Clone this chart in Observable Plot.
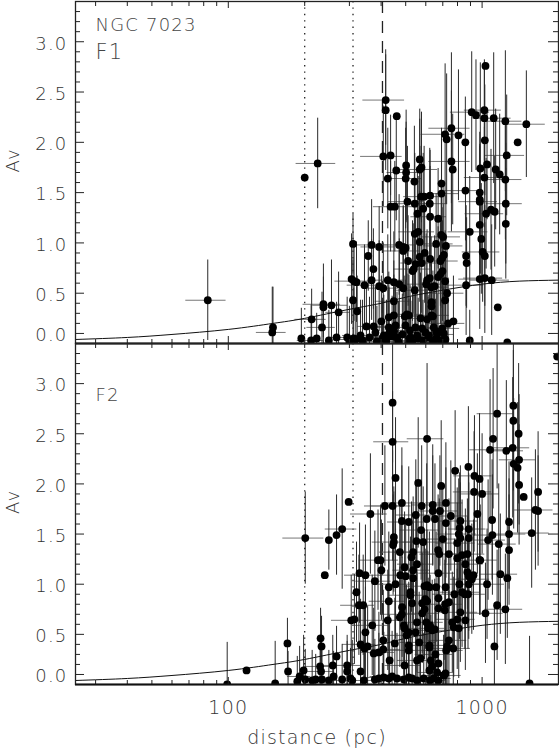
<!DOCTYPE html>
<html><head><meta charset="utf-8">
<script src="https://cdn.jsdelivr.net/npm/d3@7"></script>
<script src="https://cdn.jsdelivr.net/npm/@observablehq/plot@0.6"></script>
<style>
body{margin:0;background:#fff;}
#chart svg{display:block;}
#chart text{letter-spacing:1.2px;}
</style></head><body><div id="chart"></div>
<script>
// ---- Panel F1 (distance pc, Av mag, distance error pc, Av error mag) ----
const f1Dist = [
 83,149,150,194,200,212,213,223,225,234,
 237,237,249,255,267,272,294,300,306,310,
 310,312,313,318,320,322,332,338,344,350,
 356,360,367,367,373,374,380,385,393,393,
 401,405,408,408,410,417,417,420,425,425,
 429,429,430,436,436,442,449,449,449,450,
 453,456,459,461,462,468,471,472,485,489,
 489,489,496,499,500,500,502,502,504,506,
 508,511,515,515,520,522,530,532,538,541,
 543,543,543,546,547,554,556,560,560,568,
 568,568,568,572,575,577,578,580,585,586,
 591,594,598,602,607,607,612,617,622,622,
 624,624,624,630,632,632,632,640,640,645,
 650,655,659,660,665,671,671,685,685,690,
 690,692,692,696,696,698,702,706,707,715,
 715,715,717,720,725,728,735,757,757,766,
 771,807,859,860,865,865,869,894,894,910,
 946,979,979,979,979,979,984,993,1005,1021,
 1021,1021,1025,1025,1025,1031,1037,1046,1084,1091,
 1111,1121,1131,1153,1173,1235,1235,1240,1240,1250,1257,
 1381,1494];
const f1Av = [
 0.43,0.11,0.16,0.05,1.65,0.03,0.24,0.05,1.79,0.16,
 0.39,0.36,0.03,0.38,0.06,0.31,0.06,0.02,0.64,0.99,
 0.43,0.05,0.62,0.04,0.61,0.32,0.08,0.03,0.58,0.17,
 0.87,0.06,0.98,0.63,0.74,0.17,0.11,0.02,0.96,0.57,
 0.22,0.05,1.86,0.55,0.08,2.42,2.32,0.03,1.64,0.63,
 0.26,0.16,0.10,1.87,1.36,0.07,0.61,0.42,0.28,0.12,
 1.36,0.18,1.72,2.26,0.06,0.02,0.98,0.59,0.09,0.96,
 0.92,0.55,0.27,0.18,1.64,0.95,1.77,1.70,0.28,0.29,
 1.41,0.82,0.28,0.04,0.13,0.06,0.02,0.72,0.74,1.61,
 1.39,1.09,0.53,0.16,0.79,0.08,1.29,1.11,0.05,1.83,
 1.73,1.01,0.86,0.25,1.46,1.75,0.80,0.15,0.03,1.34,
 1.46,0.90,0.11,0.59,0.63,0.24,0.06,0.08,1.39,0.65,
 1.47,1.26,0.84,0.56,0.41,0.37,0.28,0.27,0.02,0.16,
 0.57,0.04,0.99,0.12,0.09,1.24,0.66,0.82,0.69,1.08,
 0.03,1.59,1.49,0.85,0.15,0.72,1.06,0.10,0.88,2.08,
 0.62,0.43,0.04,0.97,2.03,0.50,0.20,2.14,1.81,1.73,
 0.22,2.07,2.00,1.52,0.87,0.58,0.80,1.11,0.03,2.30,
 2.27,1.50,1.43,1.41,1.18,0.64,1.74,1.04,0.91,2.32,
 2.24,1.65,2.02,0.87,0.65,2.76,1.29,1.78,1.33,0.63,
 2.24,1.31,1.73,0.36,1.68,2.21,1.63,1.39,1.19,1.87,0.01,
 2.00,2.18];
const f1DistErr = [
 15,20,0,0,0,25,30,0,40,30,
 40,0,0,40,0,30,40,0,0,0,
 0,0,50,50,0,0,50,0,50,0,
 0,60,60,0,0,50,0,60,60,0,
 0,70,76,60,60,78,0,0,0,70,
 0,70,0,0,0,70,0,70,0,0,
 80,0,0,0,0,80,70,0,0,0,
 80,0,80,0,80,0,0,80,0,80,
 80,0,0,0,90,80,0,0,90,0,
 90,0,90,0,0,90,0,90,0,0,
 100,0,0,90,0,0,100,0,100,0,
 100,0,100,100,0,0,0,0,100,0,
 0,100,0,110,0,0,110,0,0,110,
 0,0,110,0,110,0,0,120,0,0,
 0,0,120,0,120,0,120,0,0,140,
 0,0,0,120,0,120,120,140,140,0,
 0,0,0,150,0,150,0,160,0,160,
 0,0,0,170,0,170,0,0,170,170,
 0,170,0,0,180,0,180,0,0,190,
 190,0,0,0,0,200,200,200,0,220,0,
 0,280];
const f1AvErr = [
 0.40,0.45,0.40,0.30,0,0.35,0.30,0.25,0.45,0.35,
 0.40,0.30,0.30,0.45,0.35,0.40,0.40,0.35,0.45,0.30,
 0.40,0.50,0.40,0.40,0.40,0.35,0.35,0.40,0.40,0.40,
 0.35,0.40,0.45,0.40,0.40,0.40,0.45,0.35,0.40,0.45,
 0.45,0.40,0.50,0.45,0.40,0.45,0.60,0.40,0.50,0.45,
 0.45,0.40,0.45,0.40,0.45,0.40,0.50,0.40,0.40,0.45,
 0.45,0.40,0.50,0,0.45,0.40,0.50,0.45,0.40,0.40,
 0.45,0.40,0.40,0.45,0.50,0.45,0.55,0.50,0.50,0.40,
 0.55,0.45,0.40,0.40,0.45,0.40,0.40,0.50,0.45,0.55,
 0.50,0.55,0.45,0.45,0.50,0.45,0.45,0.55,0.40,0.50,
 0.50,0.50,0.45,0.45,0.50,0.55,0.50,0.45,0.40,0.55,
 0.50,0.50,0.45,0.50,0.50,0.45,0.40,0.40,0.55,0.45,
 0.45,0.50,0.45,0.50,0.45,0.40,0.45,0.45,0.40,0.45,
 0.50,0.40,0.50,0.45,0.40,0.50,0.50,0.45,0.50,0.55,
 0.40,0.55,0.55,0.50,0.45,0.50,0.55,0.45,0.50,0.70,
 0.50,0.45,0.40,0.50,0.65,0.50,0.45,0.75,0.70,0.55,
 0.45,0.65,0.45,0.50,0.50,0.50,0.45,0.55,0.30,0.60,
 0.55,0.60,0.55,0.55,0.50,0.50,1.05,0.55,0.50,0.50,
 0.55,0.50,0.55,0.50,0.55,0,0.55,0.55,0.60,0.55,
 0.65,0.55,0.60,0,0.60,0.70,0.60,0.60,0.55,0.60,0,
 0,0.53];

// ---- Panel F2 ----
const f2Dist = [
 99,118,153,171,172,187,191,198,201,201,
 214,221,230,231,232,233,234,240,249,249,
 258,260,267,267,281,281,294,294,298,303,
 305,308,314,320,327,329,332,332,340,342,
 344,347,347,354,363,369,374,378,378,389,
 392,392,398,401,408,408,410,414,425,429,
 429,429,432,442,444,444,444,446,449,449,
 453,456,456,462,474,474,476,483,483,483,
 484,492,492,495,495,495,500,504,514,514,
 514,514,514,522,522,527,530,530,535,535,
 535,547,548,551,554,554,554,554,560,565,
 572,575,578,581,581,586,589,593,593,597,
 603,605,607,607,607,613,620,620,620,620,
 622,624,628,636,636,639,639,645,651,652,
 655,659,665,671,673,673,673,673,673,678,
 682,690,700,706,707,713,715,717,718,720,
 720,722,728,740,740,740,753,763,770,773,
 778,783,798,798,798,809,809,814,816,821,
 821,821,834,834,855,859,859,875,875,880,
 883,886,886,886,886,911,925,930,933,958,
 977,977,983,1000,1031,1046,1056,1075,1095,1098,
 1105,1118,1146,1146,1163,1180,1235,1246,1257,1277,
 1277,1277,1320,1328,1328,1332,1380,1393,1399,1399,
 1458,1538,1568,1622,1662,1662,1977];
const f2Av = [
 0.00,0.14,0.01,0.41,0.13,0.03,0.08,0.14,0.05,1.46,
 0.04,0.05,0.18,0.46,0.13,0.38,0.05,1.09,1.44,0.04,
 0.19,0.08,1.49,0.28,1.55,0.05,0.19,0.13,1.82,0.06,
 0.64,0.04,0.65,0.92,0.79,1.11,0.40,0.13,0.79,0.04,
 0.36,1.09,0.52,0.38,1.70,0.59,0.31,1.03,0.05,1.24,
 0.32,0.06,1.24,1.14,0.44,0.35,0.07,1.78,0.64,0.97,
 0.83,0.06,0.24,0.08,2.81,2.42,1.78,1.39,1.47,1.42,
 0.41,2.06,1.00,0.06,1.32,0.67,1.09,1.81,1.63,0.70,
 0.77,0.59,0.05,1.17,0.56,0.19,1.08,0.49,1.62,0.52,
 0.39,0.34,0.07,0.92,0.89,1.27,0.81,0.06,1.32,1.14,
 1.06,0.52,1.69,1.43,1.20,0.62,0.24,0.04,2.01,0.42,
 0.26,1.54,1.78,0.81,0.71,1.42,0.06,0.98,0.75,0.85,
 0.62,1.65,2.45,0.99,0.83,0.56,0.97,0.39,0.37,0.14,
 0.04,0.59,0.24,0.54,0.18,1.79,1.73,0.06,0.55,1.65,
 0.30,0.97,0.12,1.34,1.11,0.86,0.76,0.21,0.04,1.30,
 1.73,1.98,1.45,0.09,0.09,0.74,0.80,0.11,0.97,1.81,
 1.61,0.34,0.38,1.30,0.82,0.44,1.68,0.62,0.36,0.57,
 0.90,2.13,1.41,1.26,0.65,1.50,0.56,1.00,1.56,1.63,
 1.46,0.72,1.29,0.92,0.90,1.20,0.64,1.30,1.12,0.90,
 2.17,1.55,1.46,1.08,1.00,1.05,1.09,1.92,2.08,1.70,
 2.05,1.24,1.24,1.90,0.71,1.00,1.44,2.34,1.64,1.49,
 2.45,0.38,2.70,0.79,1.40,1.10,0.75,2.33,1.06,1.62,
 1.50,1.34,2.36,2.78,2.63,2.20,2.16,2.50,2.24,1.99,
 1.87,0.01,1.51,1.74,1.92,1.73,3.27];
const f2DistErr = [
 0,0,0,0,0,0,20,0,0,37,
 30,0,30,0,30,0,0,0,0,30,
 30,0,0,0,40,0,40,0,0,0,
 50,0,0,0,50,0,50,0,0,50,
 0,60,0,0,60,60,0,60,0,0,
 60,0,70,0,0,70,70,70,70,0,
 70,0,0,80,0,70,80,0,0,80,
 0,0,80,0,80,0,80,80,0,80,
 0,0,80,0,0,80,0,90,90,0,
 0,90,0,0,90,0,0,90,90,90,
 0,0,90,0,90,0,90,0,0,90,
 0,100,0,0,100,100,0,100,0,0,
 100,0,100,0,0,100,0,100,0,0,
 100,0,0,100,0,110,0,110,0,0,
 110,0,110,0,110,0,0,0,0,110,
 120,0,120,0,120,0,120,0,0,120,
 0,120,0,130,0,130,130,0,130,0,
 140,0,140,0,140,140,0,0,0,140,
 0,140,0,150,0,150,0,150,0,150,
 0,150,0,0,160,160,0,160,160,0,
 0,170,0,170,180,180,180,180,0,190,
 0,0,190,0,200,200,210,210,0,0,
 210,0,220,0,0,0,0,0,230,0,
 0,0,270,280,0,0,0];
const f2AvErr = [
 0.42,0,0.42,0.25,0.20,0.25,0.30,0.35,0.30,0.46,
 0.30,0.25,0.30,0.30,0.30,0.30,0.30,0,0.30,0.30,
 0.30,0.25,0.40,0.30,0.60,0.35,0.30,0.30,0,0.30,
 0.45,0.40,0.45,0.50,0.50,0.50,0.45,0.40,0.50,0.40,
 0.45,0.50,0.45,0.40,0.60,0.50,0.45,0.50,0.40,0.50,
 0.40,0.45,0.55,0.50,0.50,0.45,0.45,0.60,0.50,0.55,
 0.50,0.40,0.45,0.45,0.60,0.50,0.55,0.50,0.50,0.50,
 0.45,0.60,0.55,0.45,0.50,0.50,0.55,0.55,0.55,0.50,
 0.50,0.50,0.45,0.55,0.50,0.40,0.55,0.50,0.55,0.50,
 0.45,0.45,0.45,0.55,0.50,0.55,0.50,0.40,0.55,0.55,
 0.55,0.50,0.55,0.55,0.50,0.50,0.45,0.40,0.65,0.50,
 0.45,0.50,0.60,0.50,0.50,0.55,0.45,0.55,0.50,0.50,
 0.50,0.55,0.75,0.55,0.50,0.50,0.55,0.45,0.45,0.40,
 0.40,0.50,0.45,0.50,0.45,0.60,0.55,0.45,0.50,0.55,
 0.45,0.55,0.40,0.55,0.55,0.50,0.50,0.45,0.40,0.55,
 0.55,0.65,0.55,0.40,0.40,0.50,0.50,0.45,0.55,0.60,
 0.55,0.45,0.45,0.55,0.50,0.50,0.55,0.50,0.45,0.50,
 0.55,0.60,0.55,0.55,0.50,0.55,0.50,0.55,0.55,0.55,
 0.55,0.50,0.55,0.55,0.55,0.55,0.50,0.55,0.55,0.55,
 0.60,0.55,0.55,0.55,0.55,0.55,0.55,0.60,0.60,0.60,
 0.65,0.55,0.55,0.60,0.50,0.55,0.60,0.70,0.60,0.60,
 0.70,0.40,0.75,0.55,0.60,0.60,0.55,0.70,0.60,0.60,
 0.55,0.55,0.70,0.75,0.70,0.65,0.65,0.70,0.65,0.60,
 0,0.47,0.55,0.60,0.60,0.55,0];

// ---- Model extinction curve ----
const curveDist = [25,40,60,100,150,200,300,400,500,700,1000,1400,2000];
const curveAv   = [0.04,0.06,0.09,0.14,0.20,0.25,0.34,0.40,0.46,0.53,0.59,0.62,0.63];

// ---- Reference distances ----
const dottedDist = [200, 310];
const dashedDist = [405];

// ---- Axis ticks / labels ----
const yLabelPos = [0.1,0.5,1.0,1.5,2.0,2.5,3.0];
const yLabels   = ["0.0","0.5","1.0","1.5","2.0","2.5","3.0"];
const yMinor = [0.2,0.3,0.4,0.6,0.7,0.8,0.9,1.1,1.2,1.3,1.4,1.6,1.7,1.8,1.9,2.1,2.2,2.3,2.4,2.6,2.7,2.8,2.9,3.1,3.2,3.3];
const xMajor = [100,1000];
const xLabels = ["100","1000"];
const xMinor = [30,40,50,60,70,80,90,200,300,400,500,600,700,800,900];

const W = 559, ML = 75, MR = 1;
const FW = W - ML - MR;
const INK = "#222", TXT = "#333";
const FONT = "'DejaVu Sans', sans-serif";

function panel(o) {
  const rows = o.dist.map((d, i) => ({d, av: o.av[i], ed: o.ed[i], ea: o.ea[i]}));
  const FH = o.height - o.marginTop - o.marginBottom;
  const marks = [
    Plot.ruleX(dottedDist, {x: d => d, stroke: INK, strokeWidth: 1.3, strokeDasharray: "1.4,5"}),
    Plot.ruleX(dashedDist, {x: d => d, stroke: INK, strokeWidth: 1.3, strokeDasharray: "12,8"}),
    Plot.ruleY(rows.filter(r => r.ed > 0), {y: "av", x1: r => r.d - r.ed, x2: r => r.d + r.ed, stroke: "#777", strokeWidth: 1, clip: true}),
    Plot.ruleX(rows.filter(r => r.ea > 0), {x: "d", y1: r => r.av - r.ea, y2: r => r.av + r.ea, stroke: "#2a2a2a", strokeWidth: 1, clip: true}),
    Plot.line(curveDist, {x: curveDist, y: curveAv, curve: "natural", stroke: "#111", strokeWidth: 1, clip: true}),
    Plot.dot(rows, {x: "d", y: "av", r: 3.9, fill: "#000", clip: true}),
    // inward ticks
    Plot.tickY(yLabelPos, {y: d => d, insetRight: FW - 9, stroke: INK}),
    Plot.tickY(yMinor, {y: d => d, insetRight: FW - 5, stroke: INK}),
    Plot.tickY(yLabelPos, {y: d => d, insetLeft: FW - 10, stroke: INK}),
    Plot.tickY(yMinor, {y: d => d, insetLeft: FW - 5, stroke: INK}),
    Plot.tickX(xMajor, {x: d => d, insetBottom: FH - 7, stroke: INK}),
    Plot.tickX(xMinor, {x: d => d, insetBottom: FH - 5, stroke: INK}),
    Plot.tickX(xMajor, {x: d => d, insetTop: FH - 7, stroke: INK}),
    Plot.tickX(xMinor, {x: d => d, insetTop: FH - 4, stroke: INK}),
    Plot.frame({stroke: INK, strokeWidth: 1.3}),
    Plot.ruleY([0], {y: d => d, stroke: "#111", strokeWidth: 2}),
    Plot.text(yLabelPos, {y: d => d, text: (d, i) => yLabels[i], frameAnchor: "left", textAnchor: "end", dx: -8, dy: 2, fontSize: 18, fontWeight: 200, fill: TXT}),
    Plot.text(["Av"], {text: d => d, frameAnchor: "left", dx: -62, rotate: -90, fontSize: 18, fontWeight: 200, fill: TXT}),
    ...o.extra
  ];
  return Plot.plot({
    width: W, height: o.height,
    marginLeft: ML, marginRight: MR, marginTop: o.marginTop, marginBottom: o.marginBottom,
    x: {type: "log", domain: [25, 2000], axis: null},
    y: {domain: [0, 3.4], axis: null},
    style: {background: "white", fontFamily: FONT, overflow: "visible"},
    marks
  });
}

const p1 = panel({
  dist: f1Dist, av: f1Av, ed: f1DistErr, ea: f1AvErr,
  height: 343, marginTop: 1, marginBottom: 0,
  extra: [
    Plot.text(["NGC 7023"], {text: d => d, frameAnchor: "top-left", textAnchor: "start", lineAnchor: "middle", dx: 20, dy: 24, fontSize: 18, fontWeight: 200, fill: "#444"}),
    Plot.text(["F1"], {text: d => d, frameAnchor: "top-left", textAnchor: "start", lineAnchor: "middle", dx: 20, dy: 51, fontSize: 21, fontWeight: 200, fill: "#444"})
  ]
});
const p2 = panel({
  dist: f2Dist, av: f2Av, ed: f2DistErr, ea: f2AvErr,
  height: 405, marginTop: 0, marginBottom: 64,
  extra: [
    Plot.text(["F2"], {text: d => d, frameAnchor: "top-left", textAnchor: "start", lineAnchor: "middle", dx: 20, dy: 52, fontSize: 18, fontWeight: 200, fill: "#444"}),
    Plot.text(xMajor, {x: d => d, text: (d, i) => xLabels[i], frameAnchor: "bottom", lineAnchor: "middle", dy: 23, fontSize: 19, fontWeight: 200, fill: TXT}),
    Plot.text(["distance (pc)"], {text: d => d, frameAnchor: "bottom", lineAnchor: "middle", dy: 53, fontSize: 19, fontWeight: 200, fill: TXT})
  ]
});
const chart = document.getElementById("chart");
chart.append(p1, p2);
</script>
</body></html>
